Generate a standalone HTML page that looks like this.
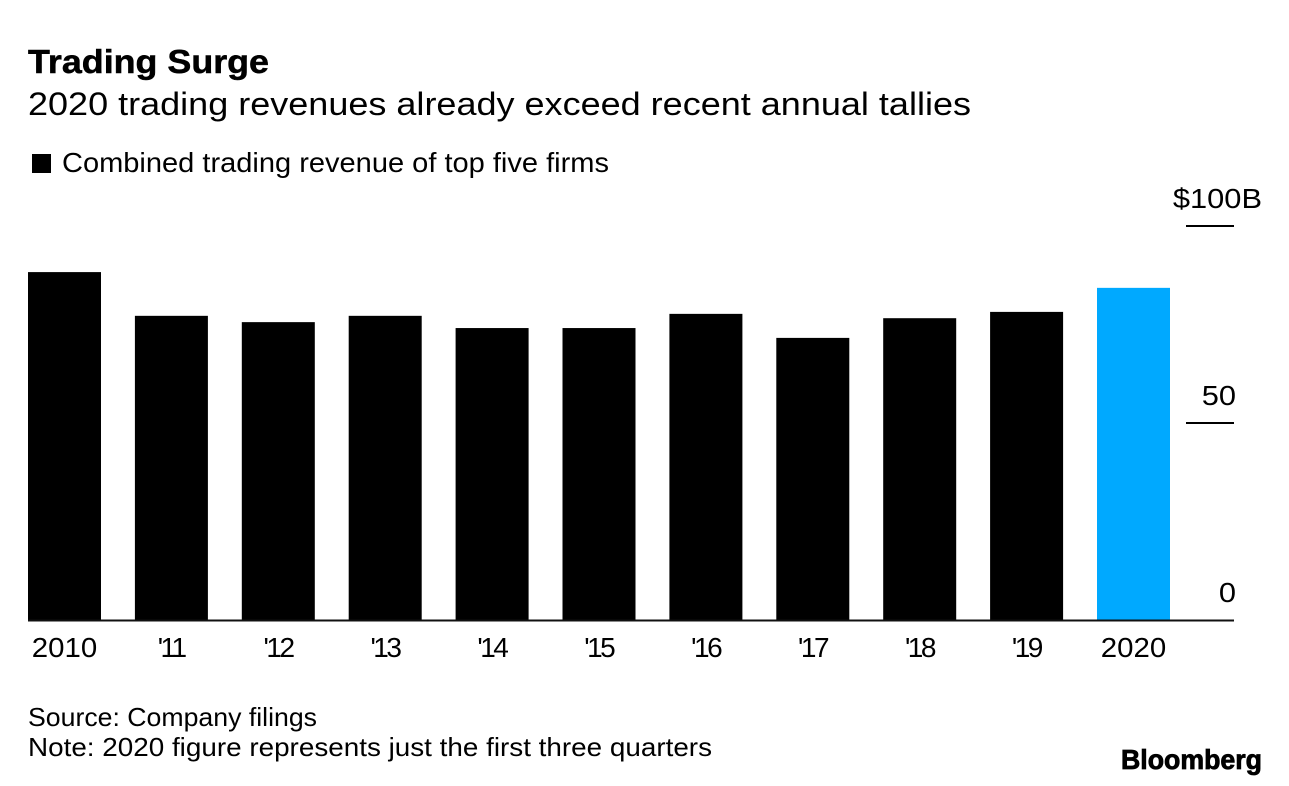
<!DOCTYPE html>
<html lang="en">
<head>
<meta charset="utf-8">
<title>Trading Surge</title>
<style>
html,body{margin:0;padding:0;background:#fff;}
body{width:1289px;height:786px;overflow:hidden;position:relative;}
svg{display:block;position:absolute;left:0;top:0;}
text{font-family:"Liberation Sans",Arial,sans-serif;fill:#000;}
</style>
</head>
<body>
<svg id="chart" width="1289" height="786" viewBox="0 0 1289 786">
  <text x="28" y="73" font-size="33" font-weight="700" textLength="241" lengthAdjust="spacingAndGlyphs" stroke="#000" stroke-width="0.5">Trading Surge</text>
  <text x="28" y="115" font-size="32" textLength="943" lengthAdjust="spacingAndGlyphs">2020 trading revenues already exceed recent annual tallies</text>
  <rect x="32" y="154" width="19" height="19" fill="#000"></rect>
  <text x="62" y="172" font-size="28" textLength="547" lengthAdjust="spacingAndGlyphs">Combined trading revenue of top five firms</text>
  <g id="grid"></g>
  <g id="bars"></g>
  <g id="xlabels"></g>
  <line x1="28" x2="1234" y1="620.5" y2="620.5" stroke="#111" stroke-width="2"></line>
  <text x="28" y="726" font-size="26" textLength="289" lengthAdjust="spacingAndGlyphs">Source: Company filings</text>
  <text x="28" y="756" font-size="26" textLength="684" lengthAdjust="spacingAndGlyphs">Note: 2020 figure represents just the first three quarters</text>
  <text x="1121" y="769" font-size="28" font-weight="700" textLength="141" lengthAdjust="spacingAndGlyphs" stroke="#000" stroke-width="0.8">Bloomberg</text>
</svg>
<script>
const categories = ["2010","'11","'12","'13","'14","'15","'16","'17","'18","'19","2020"];
const revenue = [88.3,77.2,75.6,77.2,74.1,74.1,77.7,71.6,76.6,78.2,84.3];
const highlighted = ["2020"];
const tickValues = [0,50,100];
const tickLabels = ["0","50","$100B"];

const NS = "http://www.w3.org/2000/svg";
const plotLeft = 28, bandStep = 106.9, barWidth = 73;
const y0 = 620, yPerUnit = 3.94;
const yScale = function(v){ return y0 - v * yPerUnit; };
const xScale = function(i){ return plotLeft + i * bandStep; };

const barsGroup = document.getElementById("bars");
const labelGroup = document.getElementById("xlabels");
const gridGroup = document.getElementById("grid");

categories.forEach(function(cat, i){
  const r = document.createElementNS(NS, "rect");
  r.setAttribute("x", xScale(i));
  r.setAttribute("y", yScale(revenue[i]));
  r.setAttribute("width", barWidth);
  r.setAttribute("height", y0 - yScale(revenue[i]));
  r.setAttribute("fill", highlighted.indexOf(cat) >= 0 ? "#00a9ff" : "#000");
  
  
  barsGroup.appendChild(r);

  const t = document.createElementNS(NS, "text");
  t.setAttribute("y", 657);
  t.setAttribute("font-size", "28");
  t.setAttribute("text-anchor", "middle");
  t.textContent = cat;
  
  
  labelGroup.appendChild(t);
  const isShort = cat.charAt(0) === "'";
  t.setAttribute("x", xScale(i) + barWidth / 2 + (isShort ? 1 : 0));
  const w = t.getComputedTextLength();
  t.setAttribute("textLength", isShort ? w - 5 : w * 1.05);
  t.setAttribute("lengthAdjust", isShort ? "spacing" : "spacingAndGlyphs");
});

tickValues.forEach(function(v, i){
  const y = yScale(v);
  if (v !== 0) {
    const l = document.createElementNS(NS, "line");
    l.setAttribute("x1", 1186);
    l.setAttribute("x2", 1234);
    l.setAttribute("y1", y);
    l.setAttribute("y2", y);
    l.setAttribute("stroke", "#000");
    l.setAttribute("stroke-width", "2");
    
    
    gridGroup.appendChild(l);
  }
  const t = document.createElementNS(NS, "text");
  t.setAttribute("x", v === 100 ? 1262 : 1236);
  t.setAttribute("y", y - 18);
  t.setAttribute("font-size", "28");
  t.setAttribute("text-anchor", "end");
  t.textContent = tickLabels[i];
  
  
  gridGroup.appendChild(t);
  t.setAttribute("textLength", t.getComputedTextLength() * 1.1);
  t.setAttribute("lengthAdjust", "spacingAndGlyphs");
});
</script>
</body>
</html>
